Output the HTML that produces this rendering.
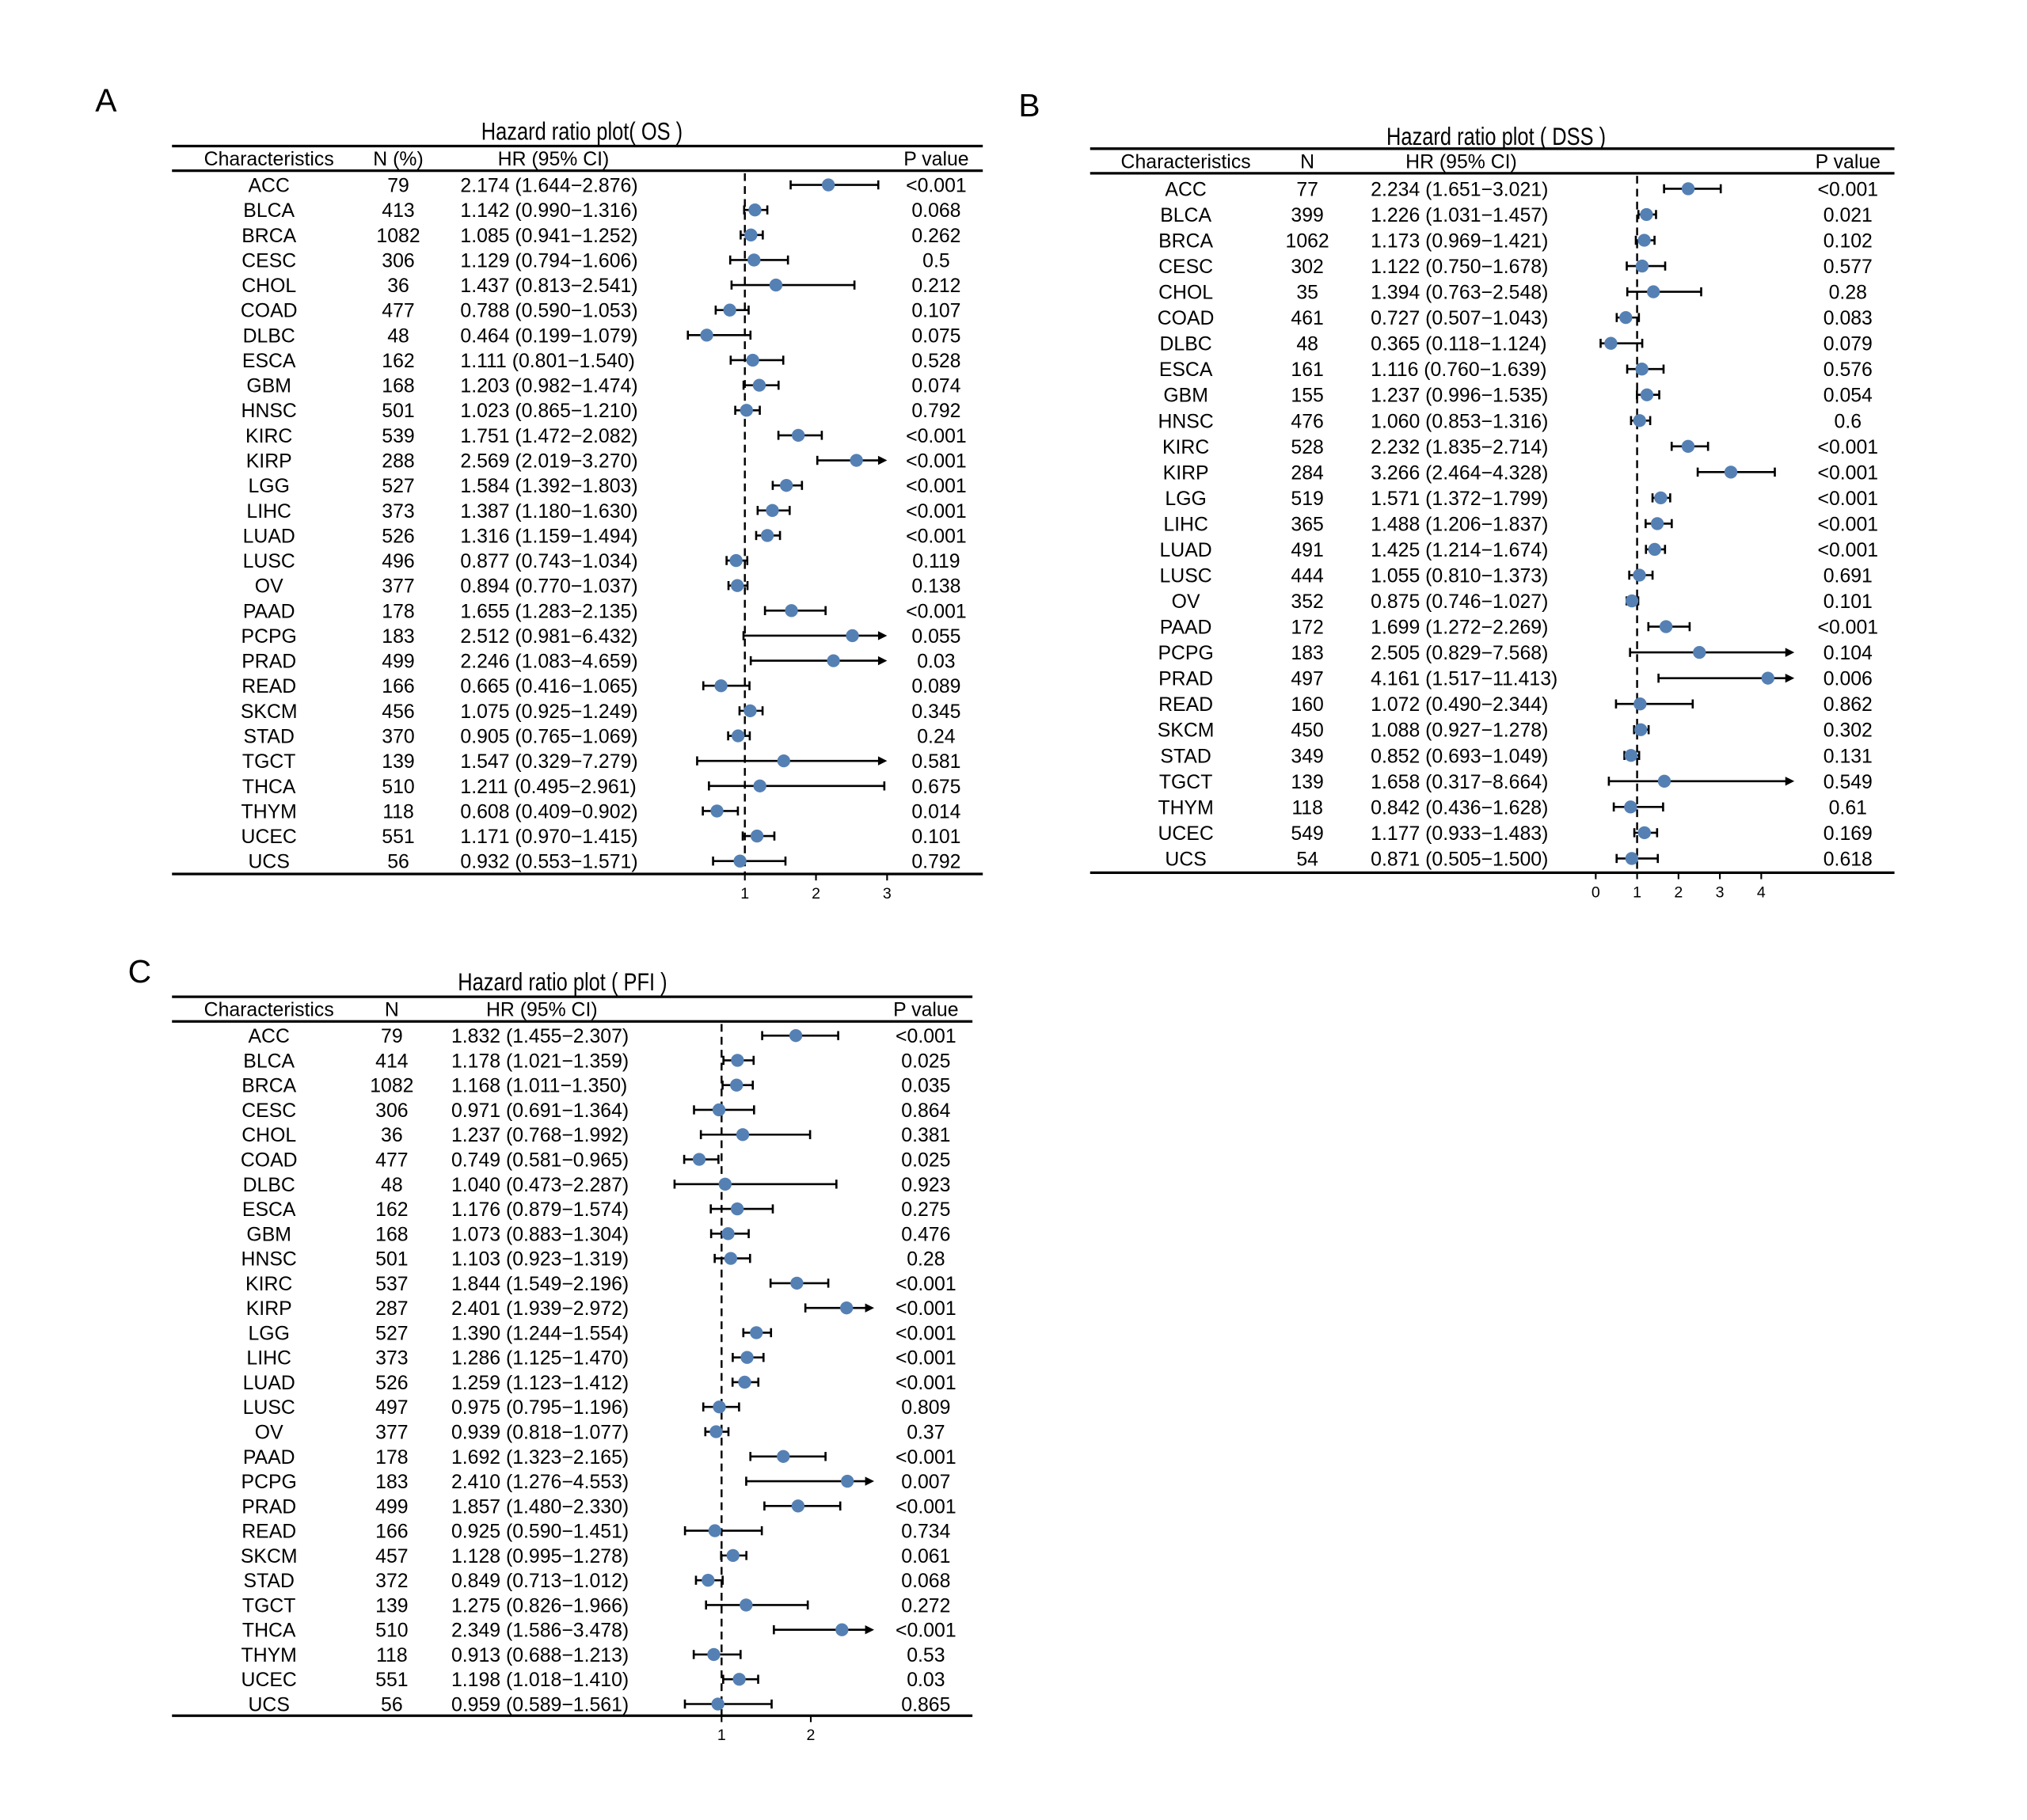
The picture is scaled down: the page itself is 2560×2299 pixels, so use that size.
<!DOCTYPE html>
<html><head><meta charset="utf-8">
<style>
html,body{margin:0;padding:0;background:#fff;}
svg{display:block;}
text{font-family:"Liberation Sans",Arial,sans-serif;fill:#000;}
</style></head>
<body>
<svg id="s" width="2560" height="2299" viewBox="0 0 1567.5 1407.7" xmlns="http://www.w3.org/2000/svg">
<rect width="1567.5" height="1407.7" fill="#fff"/>
<g id="g"></g>
</svg>
<script>
const NS="http://www.w3.org/2000/svg";
const G=document.getElementById('g');
function el(t,a,txt){const e=document.createElementNS(NS,t);for(const k in a)e.setAttribute(k,a[k]);if(txt!==undefined)e.textContent=txt;G.appendChild(e);return e;}
function parse(s){return s.trim().split('\n').map(l=>{const p=l.trim().split(/\s+/);const ci=p[3].replace(/[()]/g,'').split(/[−-]/);return {n:p[0],N:p[1],hr:p[2]+' '+p[3],h:+p[2],lo:+ci[0],hi:+ci[1],p:p[4]};});}
const A=parse(`ACC 79 2.174 (1.644−2.876) <0.001
BLCA 413 1.142 (0.990−1.316) 0.068
BRCA 1082 1.085 (0.941−1.252) 0.262
CESC 306 1.129 (0.794−1.606) 0.5
CHOL 36 1.437 (0.813−2.541) 0.212
COAD 477 0.788 (0.590−1.053) 0.107
DLBC 48 0.464 (0.199−1.079) 0.075
ESCA 162 1.111 (0.801−1.540) 0.528
GBM 168 1.203 (0.982−1.474) 0.074
HNSC 501 1.023 (0.865−1.210) 0.792
KIRC 539 1.751 (1.472−2.082) <0.001
KIRP 288 2.569 (2.019−3.270) <0.001
LGG 527 1.584 (1.392−1.803) <0.001
LIHC 373 1.387 (1.180−1.630) <0.001
LUAD 526 1.316 (1.159−1.494) <0.001
LUSC 496 0.877 (0.743−1.034) 0.119
OV 377 0.894 (0.770−1.037) 0.138
PAAD 178 1.655 (1.283−2.135) <0.001
PCPG 183 2.512 (0.981−6.432) 0.055
PRAD 499 2.246 (1.083−4.659) 0.03
READ 166 0.665 (0.416−1.065) 0.089
SKCM 456 1.075 (0.925−1.249) 0.345
STAD 370 0.905 (0.765−1.069) 0.24
TGCT 139 1.547 (0.329−7.279) 0.581
THCA 510 1.211 (0.495−2.961) 0.675
THYM 118 0.608 (0.409−0.902) 0.014
UCEC 551 1.171 (0.970−1.415) 0.101
UCS 56 0.932 (0.553−1.571) 0.792`);
const B=parse(`ACC 77 2.234 (1.651−3.021) <0.001
BLCA 399 1.226 (1.031−1.457) 0.021
BRCA 1062 1.173 (0.969−1.421) 0.102
CESC 302 1.122 (0.750−1.678) 0.577
CHOL 35 1.394 (0.763−2.548) 0.28
COAD 461 0.727 (0.507−1.043) 0.083
DLBC 48 0.365 (0.118−1.124) 0.079
ESCA 161 1.116 (0.760−1.639) 0.576
GBM 155 1.237 (0.996−1.535) 0.054
HNSC 476 1.060 (0.853−1.316) 0.6
KIRC 528 2.232 (1.835−2.714) <0.001
KIRP 284 3.266 (2.464−4.328) <0.001
LGG 519 1.571 (1.372−1.799) <0.001
LIHC 365 1.488 (1.206−1.837) <0.001
LUAD 491 1.425 (1.214−1.674) <0.001
LUSC 444 1.055 (0.810−1.373) 0.691
OV 352 0.875 (0.746−1.027) 0.101
PAAD 172 1.699 (1.272−2.269) <0.001
PCPG 183 2.505 (0.829−7.568) 0.104
PRAD 497 4.161 (1.517−11.413) 0.006
READ 160 1.072 (0.490−2.344) 0.862
SKCM 450 1.088 (0.927−1.278) 0.302
STAD 349 0.852 (0.693−1.049) 0.131
TGCT 139 1.658 (0.317−8.664) 0.549
THYM 118 0.842 (0.436−1.628) 0.61
UCEC 549 1.177 (0.933−1.483) 0.169
UCS 54 0.871 (0.505−1.500) 0.618`);
const C=parse(`ACC 79 1.832 (1.455−2.307) <0.001
BLCA 414 1.178 (1.021−1.359) 0.025
BRCA 1082 1.168 (1.011−1.350) 0.035
CESC 306 0.971 (0.691−1.364) 0.864
CHOL 36 1.237 (0.768−1.992) 0.381
COAD 477 0.749 (0.581−0.965) 0.025
DLBC 48 1.040 (0.473−2.287) 0.923
ESCA 162 1.176 (0.879−1.574) 0.275
GBM 168 1.073 (0.883−1.304) 0.476
HNSC 501 1.103 (0.923−1.319) 0.28
KIRC 537 1.844 (1.549−2.196) <0.001
KIRP 287 2.401 (1.939−2.972) <0.001
LGG 527 1.390 (1.244−1.554) <0.001
LIHC 373 1.286 (1.125−1.470) <0.001
LUAD 526 1.259 (1.123−1.412) <0.001
LUSC 497 0.975 (0.795−1.196) 0.809
OV 377 0.939 (0.818−1.077) 0.37
PAAD 178 1.692 (1.323−2.165) <0.001
PCPG 183 2.410 (1.276−4.553) 0.007
PRAD 499 1.857 (1.480−2.330) <0.001
READ 166 0.925 (0.590−1.451) 0.734
SKCM 457 1.128 (0.995−1.278) 0.061
STAD 372 0.849 (0.713−1.012) 0.068
TGCT 139 1.275 (0.826−1.966) 0.272
THCA 510 2.349 (1.586−3.478) <0.001
THYM 118 0.913 (0.688−1.213) 0.53
UCEC 551 1.198 (1.018−1.410) 0.03
UCS 56 0.959 (0.589−1.561) 0.865`);

function panel(cfg){
  const {d,x0,x1,letter,lx,ly,title,tx,ty,t1,t2,hy,r0,r1,bot,cn,cN,Nlab,cHRh,cHR,cP,ox,sc,clip,ticks,dashTop}=cfg;
  el('text',{x:lx,y:ly,'font-size':25,'text-anchor':'middle'},letter);
  el('text',{x:tx,y:ty,'font-size':19,'text-anchor':'middle',transform:`translate(${tx} 0) scale(0.82 1) translate(${-tx} 0)`},title);
  el('line',{x1:x0,x2:x1,y1:t1,y2:t1,stroke:'#000','stroke-width':2});
  el('line',{x1:x0,x2:x1,y1:t2,y2:t2,stroke:'#000','stroke-width':2});
  el('line',{x1:x0,x2:x1,y1:bot,y2:bot,stroke:'#000','stroke-width':2});
  const fs=15.2;
  el('text',{x:cn,y:hy,'font-size':fs,'text-anchor':'middle'},'Characteristics');
  el('text',{x:cN,y:hy,'font-size':fs,'text-anchor':'middle'},Nlab);
  el('text',{x:cHRh,y:hy,'font-size':fs,'text-anchor':'middle'},'HR (95% CI)');
  el('text',{x:cP,y:hy,'font-size':fs,'text-anchor':'middle'},'P value');
  const X=v=>ox+v*sc;
  el('line',{x1:X(1),x2:X(1),y1:dashTop,y2:bot,stroke:'#000','stroke-width':1.5,'stroke-dasharray':'6,4'});
  ticks.forEach(t=>{el('line',{x1:X(t),x2:X(t),y1:bot,y2:bot+5,stroke:'#000','stroke-width':1.3});
    el('text',{x:X(t),y:bot+19,'font-size':12,'text-anchor':'middle'},String(t));});
  const step=(r1-r0)/(d.length-1);
  d.forEach((r,i)=>{
    const y=r0+i*step, by=y+5.5;
    el('text',{x:cn,y:by,'font-size':fs,'text-anchor':'middle'},r.n);
    el('text',{x:cN,y:by,'font-size':fs,'text-anchor':'middle'},r.N);
    el('text',{x:cHR,y:by,'font-size':fs},r.hr);
    el('text',{x:cP,y:by,'font-size':fs,'text-anchor':'middle'},r.p);
    const lo=X(r.lo); const arrow=r.hi>clip; const hi=arrow?X(clip):X(r.hi);
    el('line',{x1:lo,x2:arrow?hi-3:hi,y1:y,y2:y,stroke:'#000','stroke-width':1.6});
    el('line',{x1:lo,x2:lo,y1:y-3.5,y2:y+3.5,stroke:'#000','stroke-width':1.6});
    if(arrow){el('path',{d:`M${hi} ${y} L${hi-7} ${y-3.5} L${hi-7} ${y+3.5} Z`,fill:'#000'});}
    else el('line',{x1:hi,x2:hi,y1:y-3.5,y2:y+3.5,stroke:'#000','stroke-width':1.6});
    el('circle',{cx:X(r.h),cy:y,r:5,fill:'#5580b4'});
  });
}
panel({d:A,x0:133,x1:760,letter:'A',lx:82,ly:86,title:'Hazard ratio plot( OS )',tx:450,ty:108,t1:113,t2:132,hy:128,r0:143,r1:666,bot:676,
  cn:208,cN:308,Nlab:'N (%)',cHRh:428,cHR:356,cP:724,ox:521,sc:55,clip:3.0,ticks:[1,2,3],dashTop:134});
panel({d:B,x0:843,x1:1465,letter:'B',lx:796,ly:90,title:'Hazard ratio plot ( DSS )',tx:1157,ty:112,t1:115,t2:134,hy:130,r0:146,r1:664,bot:675,
  cn:917,cN:1011,Nlab:'N',cHRh:1130,cHR:1060,cP:1429,ox:1234,sc:32,clip:4.8,ticks:[0,1,2,3,4],dashTop:136});
panel({d:C,x0:133,x1:752,letter:'C',lx:108,ly:760,title:'Hazard ratio plot ( PFI )',tx:435,ty:766,t1:771,t2:790,hy:786,r0:801,r1:1318,bot:1327,
  cn:208,cN:303,Nlab:'N',cHRh:419,cHR:349,cP:716,ox:489,sc:69,clip:2.71,ticks:[1,2],dashTop:792});
</script>
</body></html>
